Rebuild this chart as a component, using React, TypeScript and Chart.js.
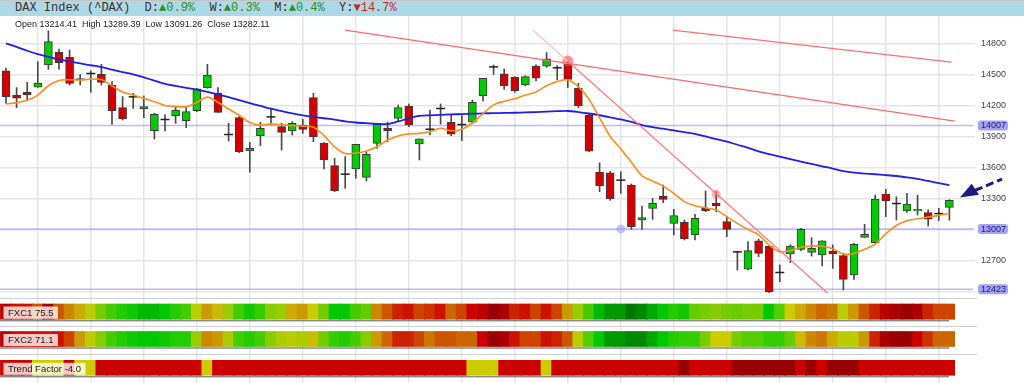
import React, { useEffect, useRef } from 'react';
import { Chart, registerables } from 'chart.js';

Chart.register(...registerables);

// ---------------- data ----------------
const OPEN = [
  14533, 14301, 14327, 14375, 14591, 14713, 14665, 14455, 14510, 14500,
  14397, 14178, 14285, 14165, 13956, 14066, 14101, 14053, 14149, 14372,
  14317, 13921, 14082, 13760, 13908, 14091, 13995, 13953, 14011, 14275,
  13834, 13618, 13538, 13586, 13505, 13834, 13980, 14075, 14191, 13827,
  13972, 14172, 14037, 14017, 14037, 14294, 14574, 14504, 14471, 14397,
  14581, 14578, 14565, 14597, 14365, 14107, 13557, 13548, 13480, 13431,
  13093, 13206, 13325, 13061, 13071, 12948, 13206, 13254, 13077, 12787,
  12617, 12893, 12842, 12588, 12765, 12810, 12781, 12755, 12794, 12749,
  12562, 12926, 12874, 13344, 13254, 13180, 13180, 13164, 13157, 13214.41,
];
const HIGH = [
  14560, 14372, 14423, 14623, 14919, 14745, 14735, 14500, 14533, 14597,
  14430, 14285, 14317, 14291, 14124, 14108, 14188, 14188, 14365, 14597,
  14372, 14027, 14092, 13843, 14037, 14172, 14027, 14043, 14066, 14317,
  13840, 13689, 13705, 13824, 13753, 14027, 14037, 14204, 14214, 13876,
  14156, 14214, 14114, 14101, 14252, 14462, 14591, 14552, 14478, 14487,
  14591, 14710, 14584, 14630, 14413, 14124, 13645, 13563, 13560, 13441,
  13228, 13302, 13431, 13196, 13093, 13148, 13373, 13367, 13125, 12790,
  12884, 12909, 12842, 12658, 12852, 13013, 12922, 12893, 12852, 12771,
  12868, 13051, 13334, 13389, 13318, 13351, 13334, 13190, 13206, 13289.39,
];
const LOW = [
  14220, 14178, 14253, 14375, 14549, 14549, 14397, 14397, 14327, 14397,
  14017, 14059, 14172, 14082, 13876, 13953, 14027, 13985, 14140, 14365,
  14133, 13856, 13744, 13554, 13811, 14011, 13769, 13914, 13930, 13850,
  13586, 13367, 13399, 13496, 13470, 13785, 13850, 14043, 13995, 13673,
  13914, 14020, 13908, 13860, 14027, 14243, 14500, 14356, 14327, 14388,
  14436, 14568, 14446, 14372, 14178, 13753, 13367, 13283, 13351, 13003,
  13003, 13100, 13261, 12948, 12900, 12900, 13174, 13174, 12932, 12610,
  12610, 12739, 12391, 12497, 12681, 12797, 12745, 12649, 12626, 12417,
  12520, 12926, 12868, 13125, 13093, 13167, 13141, 13035, 13087, 13091.26,
];
const CLOSE = [
  14285, 14269, 14301, 14413, 14816, 14613, 14413, 14452, 14508, 14423,
  14149, 14069, 14283, 14188, 14114, 14064, 14156, 14140, 14359, 14494,
  14133, 13919, 13753, 13785, 13979, 14089, 13940, 14027, 13969, 13898,
  13673, 13377, 13536, 13824, 13728, 14017, 13955, 14178, 14011, 13876,
  13970, 14170, 13921, 14015, 14230, 14462, 14572, 14391, 14343, 14478,
  14462, 14649, 14563, 14452, 14198, 13757, 13423, 13299, 13478, 13029,
  13116, 13254, 13293, 13135, 12910, 13109, 13180, 13228, 13003, 12785,
  12797, 12771, 12401, 12586, 12842, 13003, 12819, 12893, 12765, 12520,
  12858, 12955, 13296, 13277, 13252, 13248, 13196, 13100, 13155, 13282.11,
];
// slow moving average (blue)
const MA_SLOW = [
  14800, 14765, 14728, 14695, 14668, 14645, 14625, 14605, 14588, 14570,
  14545, 14522, 14500, 14470, 14440, 14408, 14388, 14370, 14352, 14330,
  14305, 14280, 14250, 14222, 14195, 14168, 14145, 14122, 14104, 14090,
  14076, 14062, 14045, 14035, 14028, 14022, 14020, 14045, 14075, 14098,
  14104, 14108, 14113, 14116, 14120, 14123, 14125, 14127, 14129, 14132,
  14136, 14140, 14144, 14146, 14136, 14122, 14105, 14085, 14064, 14040,
  14010, 13990, 13975, 13958, 13942, 13925, 13900, 13875, 13850, 13820,
  13790, 13757, 13730, 13705, 13680, 13657, 13635, 13612, 13590, 13565,
  13550, 13542, 13535, 13527, 13518, 13505, 13490, 13470, 13450, 13431,
];
// fast moving average (orange)
const MA_FAST = [
  14215, 14227, 14250, 14300, 14390, 14440, 14448, 14446, 14452, 14450,
  14390, 14330, 14300, 14268, 14235, 14200, 14190, 14188, 14230, 14280,
  14230, 14165, 14105, 14035, 14010, 14022, 14012, 14005, 14000, 13990,
  13910, 13800, 13735, 13740, 13760, 13800, 13866, 13905, 13925, 13930,
  13945, 13980, 13955, 13970, 14030, 14120, 14205, 14240, 14265, 14300,
  14330, 14390, 14430, 14446, 14380, 14260, 14080, 13900, 13780, 13650,
  13520, 13470, 13420, 13350, 13270, 13230, 13210, 13190, 13125, 13060,
  13000, 12950, 12850, 12785, 12798, 12830, 12842, 12840, 12815, 12765,
  12770, 12810, 12860, 12960, 13040, 13085, 13105, 13122, 13138, 13157,
];

const PRICE_TICKS = [12400, 12700, 13000, 13300, 13600, 13900, 14200, 14500, 14800];
const LEVELS = [14007, 13007, 12423];
const WEEK_TICKS = [3, 8, 13, 18, 23, 28, 33, 38, 43, 48, 53, 58, 63, 68, 73, 78, 83, 88];

// trend lines: [x index, price] endpoints
const TREND_TOP_X = [62.9, 89.2];
const TREND_TOP_Y = [14928, 14619];
const TREND_MID_X = [32.0, 89.5];
const TREND_MID_Y = [14928, 14049];
const TREND_STEEP_PRE_X = [49.7, 53];
const TREND_STEEP_PRE_Y = [14928, 14627];
const TREND_STEEP_X = [53, 77.5];
const TREND_STEEP_Y = [14627, 12388];

const MARK_X = [53, 67, 58];
const MARK_Y = [14629, 13341, 13007];

const HEADER_NAME = 'DAX Index (^DAX)';
const PERF_LABELS = ['D', 'W', 'M', 'Y'];
const PERF_VALUES = [0.9, 0.3, 0.4, -14.7];

// heat strips (index into HEAT_PALETTE: 0 dark red ... 15 yellow ... 32 dark green)
const HEAT_PALETTE = [
  '#990000', '#aa0000', '#bb0000', '#cc0000', '#cc1100', '#cc2200', '#cc3300', '#cc4400',
  '#cc5500', '#cc6600', '#cc7700', '#cc8800', '#cc9900', '#ccaa00', '#ccbb00', '#cccc00',
  '#bbcc00', '#aacc00', '#99cc00', '#88cc00', '#77cc00', '#66cc00', '#55cc00', '#44cc00',
  '#33cc00', '#22cc00', '#11c800', '#00c800', '#00b800', '#00a800', '#009900', '#008800',
  '#007700',
];
const FXC1 = [
  2, 4, 4, 8, 1, 8, 11, 13, 16, 20,
  23, 25, 26, 28, 28, 27, 25, 23, 16, 12,
  14, 18, 23, 26, 24, 19, 18, 13, 12, 15,
  20, 27, 27, 23, 21, 11, 8, 5, 4, 7,
  6, 4, 9, 7, 3, 2, 0, 1, 5, 4,
  7, 4, 7, 12, 18, 23, 28, 30, 30, 32,
  31, 29, 27, 25, 26, 21, 20, 19, 20, 21,
  20, 20, 27, 22, 15, 13, 11, 9, 10, 16,
  12, 8, 5, 2, 1, 0, 1, 5, 7, 7,
];
const FXC2 = [
  2, 4, 4, 4, 4, 4, 7, 12, 16, 19,
  23, 25, 26, 27, 27, 26, 25, 25, 18, 11,
  12, 17, 23, 25, 23, 19, 17, 16, 17, 14,
  20, 24, 25, 23, 19, 12, 9, 5, 5, 7,
  10, 8, 8, 9, 9, 3, 0, 1, 4, 7,
  7, 4, 5, 8, 16, 22, 27, 30, 30, 31,
  31, 29, 27, 25, 24, 24, 20, 15, 15, 20,
  22, 22, 24, 24, 21, 14, 11, 10, 13, 16,
  16, 12, 5, 1, 0, 0, 3, 6, 9, 9,
];
const TREND_FACTOR = [
  3, 3, 3, 15, 15, 15, 3, 15, 15, 3,
  3, 3, 3, 3, 3, 3, 3, 3, 3, 15,
  3, 3, 3, 3, 3, 3, 3, 3, 3, 3,
  3, 3, 3, 3, 3, 3, 3, 3, 3, 3,
  3, 3, 3, 3, 15, 15, 15, 3, 3, 3,
  3, 15, 3, 3, 3, 3, 3, 3, 3, 3,
  3, 3, 3, 3, 0, 3, 3, 3, 3, 0,
  0, 0, 0, 0, 0, 3, 0, 3, 0, 0,
  0, 3, 3, 3, 3, 3, 3, 3, 3, 3,
];
const STRIP_NAMES = ['FXC1', 'FXC2', 'Trend Factor'];
const STRIP_VALUES = [75.5, 71.1, -4.0];
const STRIP_SERIES = [FXC1, FXC2, TREND_FACTOR];

// ---------------- layout / style ----------------
const W = 1024;
const AXIS_W = 69;
const X_MIN = -0.566;
const X_MAX = 89.53;
const GRID = '#e6e6e6';
const FONT = '"Liberation Sans", Arial, sans-serif';
const GREEN = '#00cc00';
const RED = '#d40000';

const PRICE_TOP = 16;
const PRICE_H = 282;
const PRICE_MIN = 12339.6;
const PRICE_MAX = 15063.7;

const STRIP_GEOM = [
  { top: 298, height: 28, s0: 6, s1: 21.3 },
  { top: 326, height: 28, s0: 5.5, s1: 20.5 },
  { top: 354, height: 29, s0: 6.3, s1: 21.3 },
];

Chart.defaults.font.family = FONT;

function xScale(): any {
  return {
    type: 'linear',
    min: X_MIN,
    max: X_MAX,
    offset: false,
    grid: { color: GRID, lineWidth: 1.5, drawTicks: false, offset: false },
    border: { display: false },
    ticks: { display: false },
    afterBuildTicks: (s: any) => {
      s.ticks = WEEK_TICKS.map((v) => ({ value: v }));
    },
    afterFit: (s: any) => {
      s.height = 0;
      s.paddingLeft = 0;
      s.paddingRight = 0;
      s.paddingTop = 0;
      s.paddingBottom = 0;
    },
  };
}

function fitRightAxis(s: any) {
  s.width = AXIS_W;
  s.paddingTop = 0;
  s.paddingBottom = 0;
  s.paddingLeft = 0;
  s.paddingRight = 0;
}

function pts(xs: number[], ys: number[]) {
  return xs.map((x, i) => ({ x, y: ys[i] }));
}

function PriceChart() {
  const ref = useRef<HTMLCanvasElement>(null);
  useEffect(() => {
    const idx = OPEN.map((_, i) => i);
    const isDoji = (i: number) => Math.abs(OPEN[i] - CLOSE[i]) < 8;
    const wicks = idx.map((i) => ({ x: i, y: [LOW[i], HIGH[i]] }));
    const bodyIdx = idx.filter((i) => !isDoji(i));
    const bodies = bodyIdx.map((i) => ({ x: i, y: [OPEN[i], CLOSE[i]] }));
    const bodyColors = bodyIdx.map((i) => (CLOSE[i] >= OPEN[i] ? GREEN : RED));
    const dojis = idx.filter(isDoji).map((i) => ({ x: i, y: CLOSE[i] }));

    const levelPlugin = {
      id: 'levels',
      beforeDatasetsDraw(chart: any) {
        const { ctx, chartArea, scales } = chart;
        ctx.save();
        ctx.strokeStyle = 'rgba(130,130,255,0.55)';
        ctx.lineWidth = 1.5;
        LEVELS.forEach((v) => {
          const py = scales.y.getPixelForValue(v);
          ctx.beginPath();
          ctx.moveTo(chartArea.left, py);
          ctx.lineTo(chartArea.right + 18, py);
          ctx.stroke();
        });
        ctx.restore();
      },
      afterDraw(chart: any) {
        const { ctx, chartArea, scales } = chart;
        ctx.save();
        ctx.font = '9px ' + FONT;
        ctx.textBaseline = 'middle';
        LEVELS.forEach((v) => {
          const py = scales.y.getPixelForValue(v);
          const x0 = chartArea.right + 23;
          ctx.fillStyle = '#a2a2f6';
          ctx.beginPath();
          (ctx as any).roundRect(x0, py - 5, 30, 10, 3);
          ctx.fill();
          ctx.fillStyle = '#20206a';
          ctx.fillText(String(v), x0 + 3, py + 0.5);
        });
        // arrow pointing at the last candle
        const n = CLOSE.length - 1;
        const tx = scales.x.getPixelForValue(n) + 10.6;
        const ty = scales.y.getPixelForValue(CLOSE[n]) - 3;
        ctx.fillStyle = '#1b1b7a';
        ctx.strokeStyle = '#1b1b7a';
        ctx.beginPath();
        ctx.moveTo(tx, ty);
        ctx.lineTo(tx + 11.7, ty - 13.7);
        ctx.lineTo(tx + 19, ty - 2.7);
        ctx.closePath();
        ctx.fill();
        ctx.lineWidth = 3;
        ctx.setLineDash([8, 4]);
        ctx.beginPath();
        ctx.moveTo(tx + 15, ty - 7);
        ctx.lineTo(tx + 42, ty - 18.4);
        ctx.stroke();
        ctx.restore();
      },
    };

    const chart = new Chart(ref.current as HTMLCanvasElement, {
      type: 'bar',
      data: {
        datasets: [
          {
            type: 'bar',
            data: wicks as any,
            backgroundColor: '#4a4a4a',
            borderWidth: 0,
            barThickness: 1,
            grouped: false,
            order: 5,
          } as any,
          {
            type: 'bar',
            data: bodies as any,
            backgroundColor: bodyColors,
            borderColor: '#3a3a3a',
            borderWidth: 1,
            borderSkipped: false,
            barThickness: 8,
            grouped: false,
            order: 4,
          } as any,
          {
            type: 'line',
            data: dojis as any,
            showLine: false,
            pointStyle: 'line',
            pointRadius: 4.5,
            pointBorderWidth: 1.5,
            pointBorderColor: '#222',
            order: 3,
          } as any,
          {
            type: 'line',
            data: MA_FAST.map((v, i) => ({ x: i, y: v })) as any,
            borderColor: '#ff8c1a',
            borderWidth: 1.6,
            pointRadius: 0,
            tension: 0.3,
            order: 1,
          } as any,
          {
            type: 'line',
            data: MA_SLOW.map((v, i) => ({ x: i, y: v })) as any,
            borderColor: '#1f1fe6',
            borderWidth: 1.8,
            pointRadius: 0,
            tension: 0.3,
            order: 1,
          } as any,
          {
            type: 'line',
            data: pts(TREND_TOP_X, TREND_TOP_Y) as any,
            borderColor: '#ff7070',
            borderWidth: 1.2,
            pointRadius: 0,
            order: 0,
          } as any,
          {
            type: 'line',
            data: pts(TREND_MID_X, TREND_MID_Y) as any,
            borderColor: '#ff6a6a',
            borderWidth: 1.2,
            pointRadius: 0,
            order: 0,
          } as any,
          {
            type: 'line',
            data: pts(TREND_STEEP_PRE_X, TREND_STEEP_PRE_Y) as any,
            borderColor: '#ffc0c0',
            borderWidth: 1.2,
            pointRadius: 0,
            order: 0,
          } as any,
          {
            type: 'line',
            data: pts(TREND_STEEP_X, TREND_STEEP_Y) as any,
            borderColor: '#ff7a7a',
            borderWidth: 1.2,
            pointRadius: 0,
            order: 0,
          } as any,
          {
            type: 'line',
            data: pts(MARK_X, MARK_Y) as any,
            showLine: false,
            pointRadius: [5.5, 4.5, 4.5],
            pointBorderWidth: 0,
            pointBackgroundColor: [
              'rgba(255,70,70,0.55)',
              'rgba(255,90,90,0.45)',
              'rgba(150,150,255,0.55)',
            ],
            order: 0,
          } as any,
        ],
      },
      options: {
        responsive: false,
        animation: false,
        devicePixelRatio: 1,
        layout: { padding: 0, autoPadding: false } as any,
        plugins: { legend: { display: false }, tooltip: { enabled: false } },
        scales: {
          x: xScale(),
          y: {
            type: 'linear',
            position: 'right',
            min: PRICE_MIN,
            max: PRICE_MAX,
            grid: { color: GRID, lineWidth: 1.5, tickLength: 20, drawTicks: true },
            border: { display: false },
            ticks: {
              padding: 6,
              color: '#444',
              font: { size: 9, family: FONT },
              callback: (v: any) =>
                LEVELS.some((l) => Math.abs(l - Number(v)) < 40) ? '' : String(v),
            },
            afterBuildTicks: (s: any) => {
              s.ticks = PRICE_TICKS.map((v) => ({ value: v }));
            },
            afterFit: fitRightAxis,
          } as any,
        },
      },
      plugins: [levelPlugin],
    });
    return () => chart.destroy();
  }, []);
  return (
    <canvas
      ref={ref}
      width={W}
      height={PRICE_H}
      style={{ position: 'absolute', left: 0, top: PRICE_TOP, width: W, height: PRICE_H }}
    />
  );
}

function StripChart({ k }: { k: number }) {
  const ref = useRef<HTMLCanvasElement>(null);
  const g = STRIP_GEOM[k];
  useEffect(() => {
    const values = STRIP_SERIES[k];
    const unit = g.s1 - g.s0;
    const yMax = 1 + g.s0 / unit;
    const yMin = -(g.height - g.s1) / unit;
    const label = STRIP_NAMES[k] + ' ' + STRIP_VALUES[k].toFixed(1);

    const decor = {
      id: 'stripDecor',
      afterDatasetsDraw(chart: any) {
        const { ctx, chartArea } = chart;
        ctx.save();
        // pane separator
        ctx.strokeStyle = '#d0d0d0';
        ctx.lineWidth = 1;
        ctx.beginPath();
        ctx.moveTo(0, 0.5);
        ctx.lineTo(chartArea.right + 22, 0.5);
        ctx.stroke();
        // oscillator trace under the strip
        ctx.strokeStyle = k === 1 ? '#4a4a70' : '#5a5a5a';
        ctx.beginPath();
        ctx.moveTo(0, g.s1 + 1.5);
        ctx.lineTo(chartArea.right - 6, g.s1 + 1.5);
        ctx.stroke();
        // label box
        ctx.font = '9.5px ' + FONT;
        const tw = ctx.measureText(label).width;
        const bx = 3.5;
        const by = g.s0 + 2.5;
        const bh = g.s1 - 0.5 - by;
        ctx.fillStyle = 'rgba(255,255,255,0.78)';
        ctx.fillRect(bx, by, tw + 9, bh);
        ctx.fillStyle = '#222';
        ctx.textBaseline = 'middle';
        ctx.fillText(label, bx + 4.5, by + bh / 2 + 0.5);
        ctx.restore();
      },
    };

    const chart = new Chart(ref.current as HTMLCanvasElement, {
      type: 'bar',
      data: {
        datasets: [
          {
            data: values.map((_, i) => ({ x: i, y: [0, 1] })) as any,
            backgroundColor: values.map((v) => HEAT_PALETTE[v]),
            borderWidth: 0,
            barThickness: 11.2,
            grouped: false,
          } as any,
        ],
      },
      options: {
        responsive: false,
        animation: false,
        devicePixelRatio: 1,
        layout: { padding: 0, autoPadding: false } as any,
        plugins: { legend: { display: false }, tooltip: { enabled: false } },
        scales: {
          x: xScale(),
          y: {
            type: 'linear',
            position: 'right',
            min: yMin,
            max: yMax,
            grid: { display: false },
            border: { display: false },
            ticks: { display: false },
            afterFit: fitRightAxis,
          } as any,
        },
      },
      plugins: [decor],
    });
    return () => chart.destroy();
  }, [k]);
  return (
    <canvas
      ref={ref}
      width={W}
      height={g.height}
      style={{ position: 'absolute', left: 0, top: g.top, width: W, height: g.height }}
    />
  );
}

export default function App() {
  const n = OPEN.length - 1;
  const ohlc =
    'Open ' + OPEN[n].toFixed(2) +
    '  High ' + HIGH[n].toFixed(2) +
    '  Low ' + LOW[n].toFixed(2) +
    '  Close ' + CLOSE[n].toFixed(2);
  return (
    <div
      style={{
        position: 'absolute',
        left: 0,
        top: 0,
        width: W,
        height: 383,
        background: '#fff',
        overflow: 'hidden',
      }}
    >
      <div
        style={{
          position: 'absolute',
          left: 0,
          top: 0,
          width: W,
          height: 16,
          boxSizing: 'border-box',
          borderTop: '1px solid #c4c4c4',
          background: '#add8e6',
          font: '12px "Liberation Mono", monospace',
          color: '#333',
          lineHeight: '15px',
          whiteSpace: 'pre',
          paddingLeft: 15,
        }}
      >
        {HEADER_NAME}
        {PERF_LABELS.map((l, i) => {
          const v = PERF_VALUES[i];
          const up = v >= 0;
          return (
            <span key={l}>
              {'  ' + l + ':'}
              <span style={{ color: up ? '#2a8f2a' : '#c42a2a' }}>
                {(up ? '▲' : '▼') + Math.abs(v).toFixed(1) + '%'}
              </span>
            </span>
          );
        })}
      </div>
      <PriceChart />
      <div
        style={{
          position: 'absolute',
          left: 15,
          top: 19,
          font: '9px ' + FONT,
          color: '#222',
          lineHeight: '11px',
          whiteSpace: 'pre',
        }}
      >
        {ohlc}
      </div>
      {STRIP_NAMES.map((_, k) => (
        <StripChart key={k} k={k} />
      ))}
    </div>
  );
}
